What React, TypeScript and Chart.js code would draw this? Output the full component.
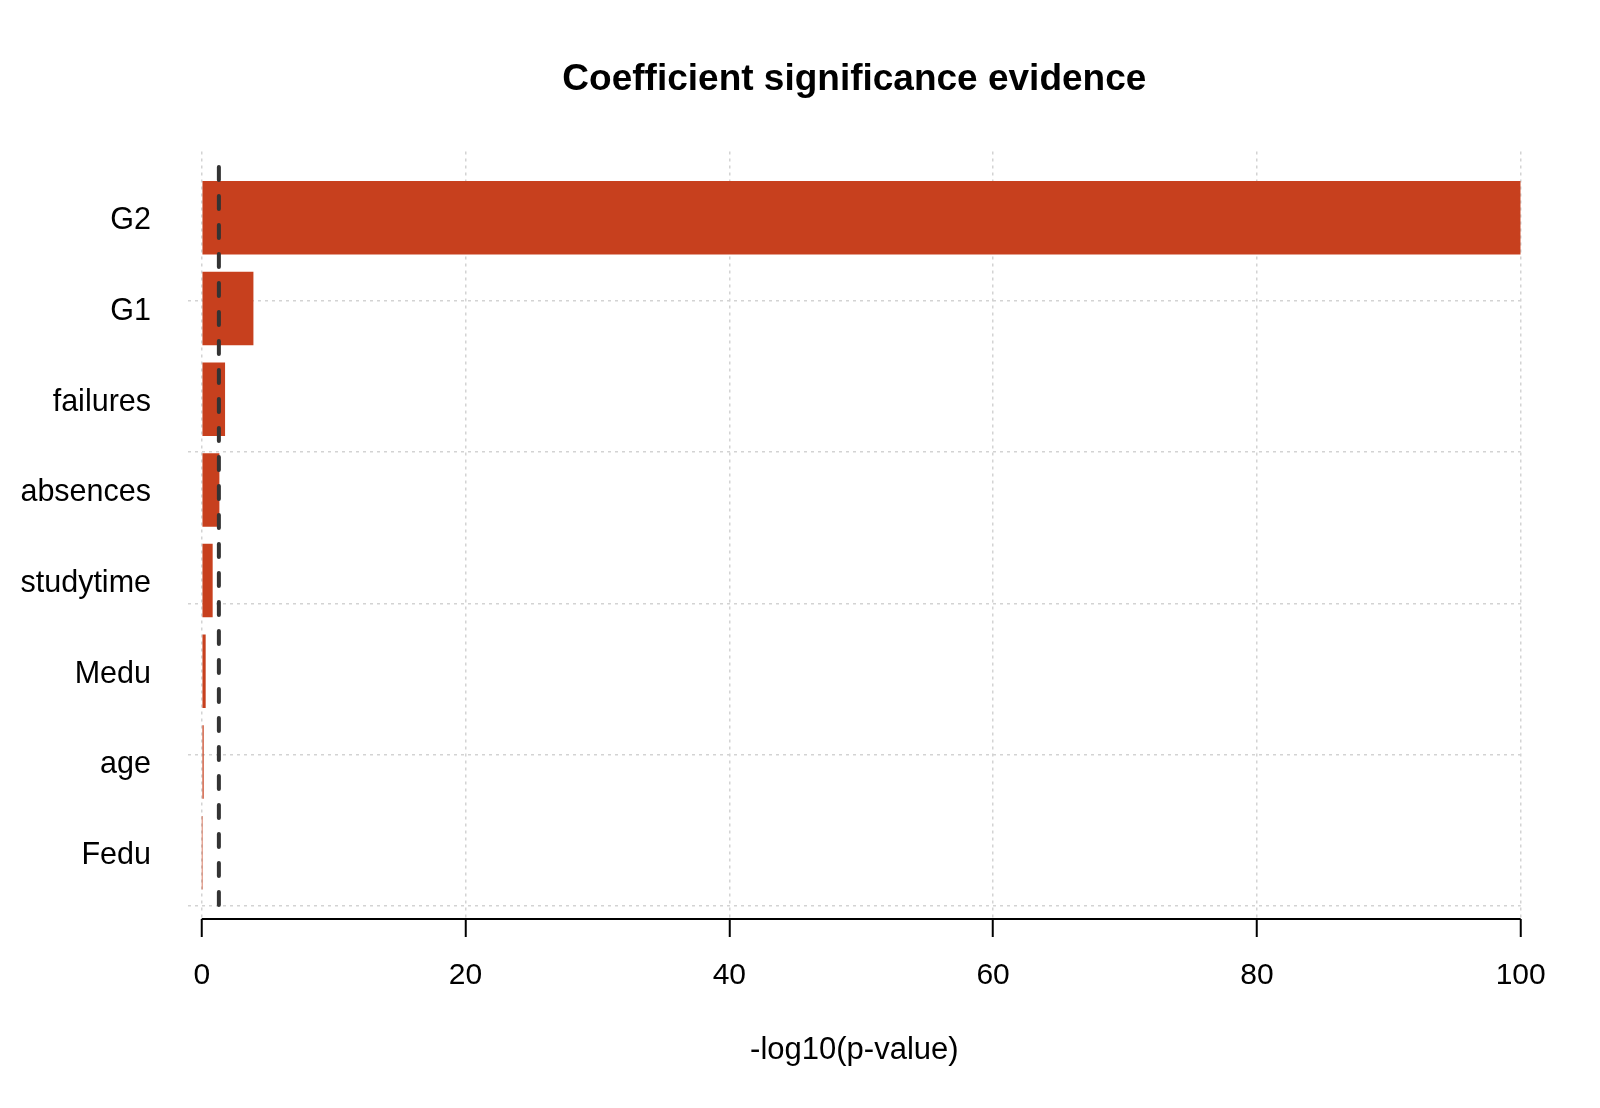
import React, { useEffect, useRef } from "react";
import { Chart, registerables } from "chart.js";

Chart.register(...registerables);

// ---- data ----
const TITLE = "Coefficient significance evidence";
const X_TITLE = "-log10(p-value)";
const categories = ["G2", "G1", "failures", "absences", "studytime", "Medu", "age", "Fedu"];
const negLog10P = [100, 3.92, 1.77, 1.34, 0.83, 0.3, 0.15, 0.005];
const xTicks = [0, 20, 40, 60, 80, 100];
const yGridTicks = [0, 2, 4, 6, 8];
const threshold = -Math.log10(0.05);

// ---- barplot geometry (R barplot units) ----
const barWidth = 1;
const barSpace = 0.2;
const n = categories.length;
// bottom-up order: index 0 is the bottom bar
const bottomUp = [...categories].reverse();
const posBottomUp = bottomUp.map((_, k) => barSpace + barWidth / 2 + k * (barWidth + barSpace));
const posByCat = categories.map((_, i) => posBottomUp[n - 1 - i]);
const yLo = barSpace;
const yHi = n * (barWidth + barSpace);
const yMin = yLo - 0.04 * (yHi - yLo);
const yMax = yHi + 0.04 * (yHi - yLo);
const xMin = -1.04;
const xMax = 100;

const FAMILY = "'Liberation Sans', Arial, Helvetica, sans-serif";
const BAR = "#C7401E";
const GRID = "#d3d3d3";

const titlePlugin = {
  id: "mainTitle",
  afterDraw(chart: any) {
    const { ctx, chartArea } = chart;
    ctx.save();
    ctx.font = `bold 37px ${FAMILY}`;
    ctx.fillStyle = "#000";
    ctx.textAlign = "center";
    ctx.textBaseline = "middle";
    ctx.fillText(TITLE, (chartArea.left + chartArea.right) / 2, 79.5);
    ctx.restore();
  },
};

const thresholdPlugin = {
  id: "threshold",
  afterDatasetsDraw(chart: any) {
    const { ctx, chartArea, scales } = chart;
    const x = scales.x.getPixelForValue(threshold);
    ctx.save();
    ctx.strokeStyle = "#333333";
    ctx.lineWidth = 4;
    ctx.lineCap = "round";
    ctx.setLineDash([13, 16]);
    ctx.lineDashOffset = 13.5;
    ctx.beginPath();
    ctx.moveTo(x, chartArea.top);
    ctx.lineTo(x, chartArea.bottom);
    ctx.stroke();
    ctx.restore();
  },
};

const axisLinePlugin = {
  id: "axisLine",
  afterDraw(chart: any) {
    const { ctx, chartArea, scales } = chart;
    const x0 = scales.x.getPixelForValue(xTicks[0]);
    const x1 = scales.x.getPixelForValue(xTicks[xTicks.length - 1]);
    ctx.save();
    ctx.strokeStyle = "#000";
    ctx.lineWidth = 2;
    ctx.beginPath();
    ctx.moveTo(x0, chartArea.bottom);
    ctx.lineTo(x1, chartArea.bottom);
    ctx.stroke();
    ctx.restore();
  },
};

export default function App() {
  const ref = useRef<HTMLCanvasElement>(null);
  useEffect(() => {
    document.body.style.margin = "0";
    const canvas = ref.current!;
    const chart = new Chart(canvas, {
      type: "bar",
      data: {
        datasets: [
          {
            data: categories.map((c, i) => ({ x: negLog10P[i], y: posByCat[i] })) as any,
            backgroundColor: BAR,
            borderWidth: 0,
            barPercentage: 0.81,
            categoryPercentage: 1,
            xAxisID: "x",
            yAxisID: "y",
          },
        ],
      },
      options: {
        indexAxis: "y",
        responsive: false,
        animation: false,
        devicePixelRatio: 1,
        layout: { padding: { top: 151.5, right: 79.3, bottom: 0, left: 0 } },
        plugins: {
          legend: { display: false },
          tooltip: { enabled: false },
          title: { display: false },
        },
        scales: {
          x: {
            type: "linear",
            position: "bottom",
            min: xMin,
            max: xMax,
            offset: false,
            z: 1,
            afterBuildTicks: (s: any) => {
              s.ticks = xTicks.map((v) => ({ value: v }));
            },
            afterFit: (s: any) => {
              s.height = 189;
            },
            grid: {
              offset: false,
              color: GRID,
              lineWidth: 1.5,
              drawTicks: true,
              tickLength: 18,
              tickColor: "#000",
              tickWidth: 2,
              tickBorderDash: [],
            },
            border: { display: false, dash: [3, 4] },
            ticks: {
              color: "#000",
              font: { family: FAMILY, size: 30 },
              padding: 21,
              maxRotation: 0,
              autoSkip: false,
            },
            title: {
              display: true,
              text: X_TITLE,
              color: "#000",
              font: { family: FAMILY, size: 31 },
              padding: { top: 0, bottom: 39 },
            },
          },
          y: {
            type: "linear",
            position: "left",
            min: yMin,
            max: yMax,
            offset: false,
            afterBuildTicks: (s: any) => {
              s.ticks = posBottomUp.map((v) => ({ value: v }));
            },
            afterFit: (s: any) => {
              s.width = 188;
            },
            grid: { display: false, drawTicks: false, offset: false },
            border: { display: false },
            ticks: {
              color: "#000",
              font: { family: FAMILY, size: 30.5 },
              padding: 37,
              labelOffset: 3,
              autoSkip: false,
              callback: (_v: any, i: number) => bottomUp[i],
            },
          },
          y2: {
            type: "linear",
            position: "left",
            min: yMin,
            max: yMax,
            offset: false,
            z: 1,
            afterBuildTicks: (s: any) => {
              s.ticks = yGridTicks.map((v) => ({ value: v }));
            },
            afterFit: (s: any) => {
              s.width = 0;
            },
            grid: { color: GRID, lineWidth: 1.5, drawTicks: false, offset: false },
            border: { display: false, dash: [3, 4] },
            ticks: { display: false },
          },
        },
      } as any,
      plugins: [thresholdPlugin, axisLinePlugin, titlePlugin],
    });
    return () => chart.destroy();
  }, []);
  return (
    <div style={{ width: 1600, height: 1108, background: "#fff" }}>
      <canvas ref={ref} width={1600} height={1108} style={{ display: "block" }} />
    </div>
  );
}
